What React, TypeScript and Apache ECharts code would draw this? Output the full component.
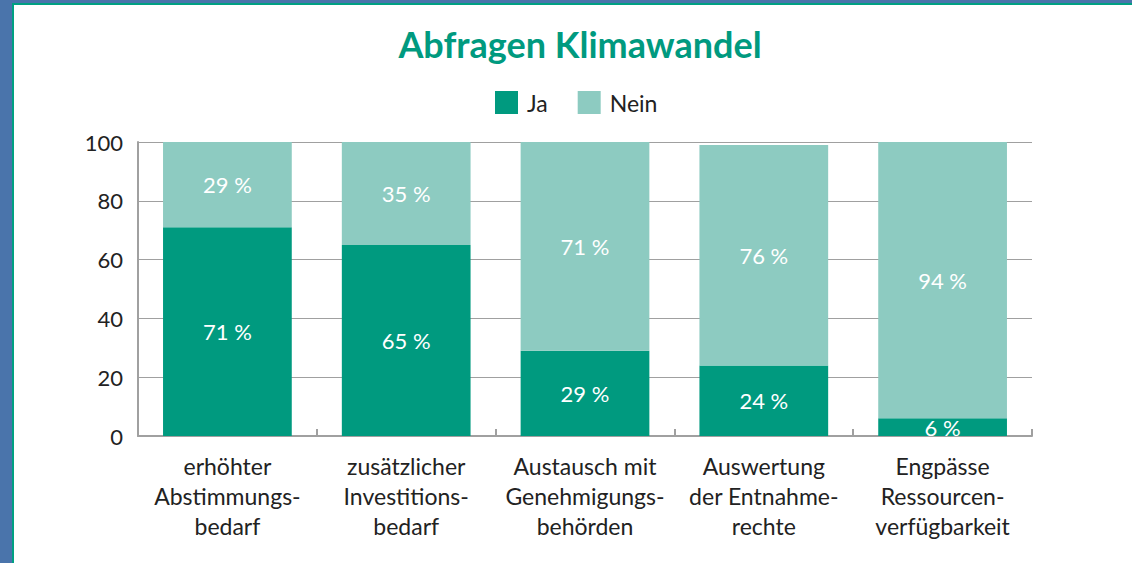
import React, { useEffect, useRef } from "react";
import * as echarts from "echarts";

const title = "Abfragen Klimawandel";
const categories = [
  "erhöhter\nAbstimmungs-\nbedarf",
  "zusätzlicher\nInvestitions-\nbedarf",
  "Austausch mit\nGenehmigungs-\nbehörden",
  "Auswertung\nder Entnahme-\nrechte",
  "Engpässe\nRessourcen-\nverfügbarkeit",
];
const jaValues = [71, 65, 29, 24, 6];
const neinValues = [29, 35, 71, 75, 94];
const jaLabels = ["71 %", "65 %", "29 %", "24 %", "6 %"];
const neinLabels = ["29 %", "35 %", "71 %", "76 %", "94 %"];
const yTicks = { min: 0, max: 100, interval: 20 };

const JA = "#009a7f";
const NEIN = "#8dcbc1";
const FONT = "Lato, 'Open Sans', sans-serif";

export default function App() {
  const ref = useRef<HTMLDivElement>(null);
  useEffect(() => {
    document.body.style.margin = "0";
    const chart = echarts.init(ref.current!, null, { renderer: "svg" });
    chart.setOption({
      animation: false,
      textStyle: { fontFamily: FONT },
      title: {
        text: title,
        left: 580,
        textAlign: "center",
        top: 26,
        padding: 0,
        textStyle: { color: JA, fontSize: 36, fontWeight: "bold", fontFamily: FONT },
      },
      legend: {
        data: ["Ja", "Nein"],
        left: 495,
        top: 91,
        padding: 0,
        itemWidth: 23,
        itemHeight: 23,
        itemGap: 30,
        icon: "rect",
        textStyle: { fontSize: 23, color: "#222", fontFamily: FONT, padding: [0, 0, 0, 4] },
      },
      grid: { left: 138, right: 100, top: 142, bottom: 127, containLabel: false },
      xAxis: {
        type: "category",
        data: categories,
        axisLine: { lineStyle: { color: "#a0a0a0", width: 2 } },
        axisTick: { show: true, inside: true, length: 7, lineStyle: { color: "#a0a0a0", width: 2 } },
        axisLabel: { interval: 0, fontSize: 23, lineHeight: 30, color: "#222", margin: 15, fontFamily: FONT },
      },
      yAxis: {
        type: "value",
        min: yTicks.min,
        max: yTicks.max,
        interval: yTicks.interval,
        axisLine: { show: true, lineStyle: { color: "#a0a0a0", width: 2 } },
        axisTick: { show: false },
        splitLine: { lineStyle: { color: "#a0a0a0", width: 1 } },
        axisLabel: { fontSize: 22, color: "#222", margin: 15, fontFamily: FONT },
      },
      series: [
        {
          name: "Ja",
          type: "bar",
          stack: "t",
          barCategoryGap: "28%",
          itemStyle: { color: JA },
          data: jaValues,
          label: {
            show: true,
            position: "inside",
            color: "#fff",
            fontSize: 22,
            fontFamily: FONT,
            formatter: (p: any) => jaLabels[p.dataIndex],
          },
        },
        {
          name: "Nein",
          type: "bar",
          stack: "t",
          barCategoryGap: "28%",
          itemStyle: { color: NEIN },
          data: neinValues,
          label: {
            show: true,
            position: "inside",
            color: "#fff",
            fontSize: 22,
            fontFamily: FONT,
            formatter: (p: any) => neinLabels[p.dataIndex],
          },
        },
      ],
    });
    return () => chart.dispose();
  }, []);
  return (
    <div style={{ position: "absolute", left: 0, top: 0, width: 1132, height: 563, background: "#4a74ab", overflow: "hidden" }}>
      <div
        style={{
          position: "absolute",
          left: 12,
          top: 3,
          width: 1132,
          height: 563,
          background: "#fff",
          borderLeft: "2px solid #00a082",
          borderTop: "2px solid #00a082",
        }}
      />
      <div ref={ref} style={{ position: "absolute", left: 0, top: 0, width: 1132, height: 563 }} />
    </div>
  );
}
